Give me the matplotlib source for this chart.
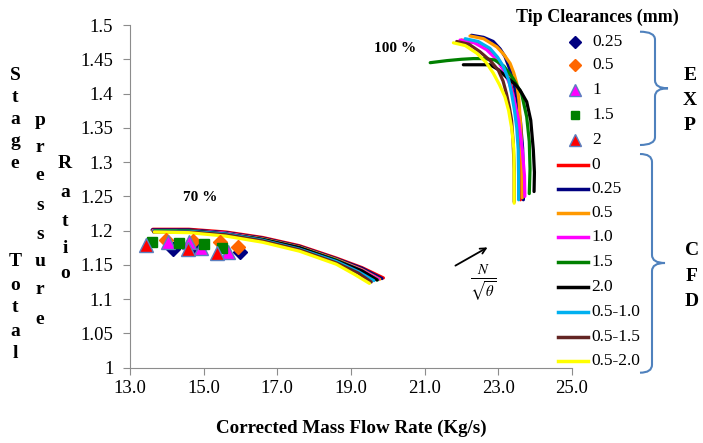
import matplotlib
matplotlib.use("Agg")
import matplotlib.pyplot as plt
from matplotlib.path import Path
from matplotlib.patches import PathPatch

plt.rcParams['font.family'] = ['Liberation Serif', 'DejaVu Serif']
plt.rcParams['mathtext.fontset'] = 'stix'

# ---- CFD curves, 70 % speed line ----
x70_0 = [13.62, 14.6, 15.6, 16.6, 17.6, 18.6, 19.3, 19.88]
y70_0 = [1.202, 1.202, 1.198, 1.190, 1.178, 1.160, 1.146, 1.131]
x70_025 = [13.60, 14.6, 15.6, 16.6, 17.6, 18.6, 19.3, 19.84]
y70_025 = [1.201, 1.201, 1.197, 1.189, 1.177, 1.159, 1.145, 1.130]
x70_05 = [13.62, 14.6, 15.6, 16.6, 17.6, 18.6, 19.3, 19.78]
y70_05 = [1.200, 1.200, 1.196, 1.188, 1.176, 1.158, 1.143, 1.129]
x70_10 = [13.64, 14.6, 15.6, 16.6, 17.6, 18.6, 19.3, 19.75]
y70_10 = [1.200, 1.200, 1.196, 1.187, 1.175, 1.157, 1.142, 1.129]
x70_15 = [13.66, 14.6, 15.6, 16.6, 17.6, 18.6, 19.3, 19.72]
y70_15 = [1.200, 1.200, 1.195, 1.187, 1.175, 1.157, 1.141, 1.128]
x70_20 = [14.30, 14.8, 15.6, 16.6, 17.6, 18.6, 19.3, 19.70]
y70_20 = [1.199, 1.199, 1.195, 1.187, 1.175, 1.156, 1.141, 1.128]
x70_0510 = [13.64, 14.6, 15.6, 16.6, 17.6, 18.6, 19.2, 19.62]
y70_0510 = [1.199, 1.199, 1.195, 1.186, 1.173, 1.155, 1.140, 1.127]
x70_0515 = [13.64, 14.6, 15.6, 16.6, 17.6, 18.6, 19.2, 19.55]
y70_0515 = [1.198, 1.198, 1.194, 1.185, 1.172, 1.153, 1.138, 1.125]
x70_0520 = [13.66, 14.6, 15.6, 16.6, 17.6, 18.6, 19.1, 19.50]
y70_0520 = [1.198, 1.197, 1.192, 1.183, 1.170, 1.151, 1.136, 1.123]

# ---- CFD curves, 100 % speed line ----
x100_0 = [22.00, 22.40, 22.70, 23.00, 23.15, 23.30, 23.40, 23.50, 23.56, 23.59, 23.60]
y100_0 = [1.478, 1.474, 1.466, 1.450, 1.437, 1.420, 1.400, 1.370, 1.330, 1.290, 1.245]
x100_025 = [22.27, 22.60, 22.86, 23.05, 23.18, 23.30, 23.40, 23.50, 23.60, 23.66, 23.68, 23.68]
y100_025 = [1.485, 1.482, 1.476, 1.465, 1.454, 1.437, 1.420, 1.395, 1.360, 1.320, 1.280, 1.245]
x100_05 = [22.23, 22.60, 22.96, 23.15, 23.32, 23.42, 23.50, 23.56, 23.61, 23.64, 23.65]
y100_05 = [1.484, 1.480, 1.468, 1.457, 1.444, 1.430, 1.415, 1.390, 1.350, 1.300, 1.248]
x100_10 = [21.96, 22.35, 22.68, 22.95, 23.14, 23.30, 23.41, 23.55, 23.65, 23.71, 23.72]
y100_10 = [1.478, 1.474, 1.464, 1.450, 1.434, 1.415, 1.395, 1.361, 1.318, 1.280, 1.250]
x100_15 = [21.15, 21.60, 22.00, 22.32, 22.60, 22.90, 23.15, 23.40, 23.63, 23.77, 23.84, 23.86, 23.84]
y100_15 = [1.445, 1.448, 1.450, 1.451, 1.451, 1.449, 1.440, 1.422, 1.400, 1.366, 1.330, 1.290, 1.254]
x100_20 = [22.05, 22.40, 22.77, 23.00, 23.22, 23.45, 23.59, 23.77, 23.88, 23.95, 23.98, 23.97]
y100_20 = [1.442, 1.442, 1.442, 1.435, 1.424, 1.414, 1.405, 1.388, 1.361, 1.318, 1.285, 1.257]
x100_0510 = [22.10, 22.45, 22.77, 22.98, 23.14, 23.28, 23.36, 23.44, 23.50, 23.54, 23.55, 23.55]
y100_0510 = [1.480, 1.476, 1.466, 1.453, 1.439, 1.420, 1.400, 1.375, 1.350, 1.318, 1.280, 1.245]
x100_0515 = [21.87, 22.20, 22.50, 22.78, 23.00, 23.13, 23.22, 23.30, 23.36, 23.40, 23.43, 23.43]
y100_0515 = [1.476, 1.472, 1.461, 1.448, 1.434, 1.418, 1.400, 1.380, 1.361, 1.330, 1.290, 1.242]
x100_0520 = [21.78, 22.10, 22.41, 22.66, 22.86, 23.03, 23.18, 23.28, 23.36, 23.42, 23.43, 23.43]
y100_0520 = [1.474, 1.470, 1.459, 1.446, 1.430, 1.413, 1.395, 1.375, 1.350, 1.320, 1.285, 1.240]

cfd_labels = ['0', '0.25', '0.5', '1.0', '1.5', '2.0', '0.5-1.0', '0.5-1.5', '0.5-2.0']
cfd_colors = ['#FF0000', '#000080', '#FF9900', '#FF00FF', '#008000', '#000000',
              '#00B0F0', '#632523', '#FFFF00']
curves70 = [(x70_0, y70_0), (x70_025, y70_025), (x70_05, y70_05), (x70_10, y70_10),
            (x70_15, y70_15), (x70_20, y70_20), (x70_0510, y70_0510),
            (x70_0515, y70_0515), (x70_0520, y70_0520)]
curves100 = [(x100_0, y100_0), (x100_025, y100_025), (x100_05, y100_05),
             (x100_10, y100_10), (x100_15, y100_15), (x100_20, y100_20),
             (x100_0510, y100_0510), (x100_0515, y100_0515), (x100_0520, y100_0520)]

# ---- experimental points (70 % speed) ----
exp025_x = [14.18, 14.75, 15.99]
exp025_y = [1.173, 1.176, 1.169]
exp05_x = [13.99, 14.70, 15.43, 15.92]
exp05_y = [1.187, 1.185, 1.184, 1.176]
exp1_x = [14.04, 14.60, 14.94, 15.67]
exp1_y = [1.184, 1.184, 1.174, 1.169]
exp15_x = [13.61, 14.34, 15.01, 15.49]
exp15_y = [1.184, 1.182, 1.180, 1.175]
exp2_x = [13.43, 14.57, 15.35]
exp2_y = [1.179, 1.173, 1.167]

exp_labels = ['0.25', '0.5', '1', '1.5', '2']
exp_markers = ['D', 'D', '^', 's', '^']
exp_colors = ['#000080', '#FF6600', '#FF00FF', '#008000', '#FF0000']
exp_edges = ['#000080', '#FF6600', '#5B7FBF', '#008000', '#5B7FBF']
exp_sizes = [7, 7, 10, 7, 10]
exp_pts = [(exp025_x, exp025_y), (exp05_x, exp05_y), (exp1_x, exp1_y),
           (exp15_x, exp15_y), (exp2_x, exp2_y)]

xticks = [13, 15, 17, 19, 21, 23, 25]
yticks = [1, 1.05, 1.1, 1.15, 1.2, 1.25, 1.3, 1.35, 1.4, 1.45, 1.5]
ytick_labels = ['1', '1.05', '1.1', '1.15', '1.2', '1.25', '1.3', '1.35', '1.4', '1.45', '1.5']

W, H = 703, 443
fig = plt.figure(figsize=(W / 100, H / 100), dpi=100)
ax = fig.add_axes([130 / W, 1 - 367.7 / H, (572 - 130) / W, (367.7 - 25) / H])

for (xs, ys), c in zip(curves70, cfd_colors):
    ax.plot(xs, ys, color=c, lw=2.3, solid_capstyle='round')
for (xs, ys), c in zip(curves100, cfd_colors):
    ax.plot(xs, ys, color=c, lw=2.3, solid_capstyle='round')
for (xs, ys), m, c, e, s in zip(exp_pts, exp_markers, exp_colors, exp_edges, exp_sizes):
    ax.plot(xs, ys, ls='none', marker=m, ms=s, mfc=c, mec=e, mew=1.0, zorder=5)

ax.set_xlim(13, 25)
ax.set_ylim(1, 1.5)
ax.set_xticks(xticks)
ax.set_xticklabels(['%.1f' % v for v in xticks], fontsize=13.5)
ax.set_yticks(yticks)
ax.set_yticklabels(ytick_labels, fontsize=13.5)
for s in ['top', 'right']:
    ax.spines[s].set_visible(False)
for s in ['left', 'bottom']:
    ax.spines[s].set_color('#8c8c8c')
ax.tick_params(direction='out', length=5, color='#8c8c8c')
ax.tick_params(axis='y', pad=7)
ax.tick_params(axis='x', pad=4)
ax.set_xlabel('Corrected Mass Flow Rate (Kg/s)', fontsize=13.7, fontweight='bold', labelpad=16)

ax.text(14.9, 1.249, '70 %', fontsize=11, fontweight='bold', ha='center', va='center')
ax.text(20.2, 1.466, '100 %', fontsize=11, fontweight='bold', ha='center', va='center')

# overlay in pixel coordinates for legend, braces and stacked letters
lay = fig.add_axes([0, 0, 1, 1])
lay.set_xlim(0, W)
lay.set_ylim(H, 0)
lay.axis('off')
lay.patch.set_alpha(0)

lay.annotate('', xy=(490, 246), xytext=(453, 267),
             arrowprops=dict(arrowstyle='->', color='black', lw=1.3))
lay.text(483, 283, r'$\frac{N}{\sqrt{\theta}}$', fontsize=15, ha='center', va='center')

lay.text(597, 17, 'Tip Clearances (mm)', fontsize=13, fontweight='bold',
         ha='center', va='center')
exp_rows = [41.7, 65, 90, 115, 140]
for lab, m, c, e, s, yy in zip(exp_labels, exp_markers, exp_colors, exp_edges, exp_sizes, exp_rows):
    lay.plot([575], [yy], ls='none', marker=m, ms=s * 0.9, mfc=c, mec=e, mew=1.0)
    lay.text(592, yy, lab, fontsize=12.5, ha='left', va='center')
cfd_rows = [165, 188.5, 213, 237, 262, 287, 312, 337, 361]
for lab, c, yy in zip(cfd_labels, cfd_colors, cfd_rows):
    lay.plot([558, 588], [yy, yy], color=c, lw=2.5)
    lay.text(591, yy, lab, fontsize=12.5, ha='left', va='center')


def brace(x_end, x_spine, x_tip, y_top, y_mid, y_bot, r=8):
    verts = [(x_end, y_top), (x_spine, y_top), (x_spine, y_top + r),
             (x_spine, y_mid - r), (x_spine, y_mid), (x_tip, y_mid),
             (x_spine, y_mid), (x_spine, y_mid + r),
             (x_spine, y_bot - r), (x_spine, y_bot), (x_end, y_bot)]
    codes = [Path.MOVETO, Path.CURVE3, Path.CURVE3, Path.LINETO, Path.CURVE3, Path.CURVE3,
             Path.CURVE3, Path.CURVE3, Path.LINETO, Path.CURVE3, Path.CURVE3]
    lay.add_patch(PathPatch(Path(verts, codes), fill=False, ec='#4F81BD', lw=1.5))


brace(640, 655, 668, 31.7, 88.3, 145)
brace(640, 652, 665, 154, 263, 372.7)

for ch, yy in zip('EXP', [75, 100, 125]):
    lay.text(690, yy, ch, fontsize=14, fontweight='bold', ha='center', va='center')
for ch, yy in zip('CFD', [250, 276.7, 301.7]):
    lay.text(692, yy, ch, fontsize=14, fontweight='bold', ha='center', va='center')

# stacked y-axis title, three columns
col1 = [('S', 75), ('t', 97), ('a', 119), ('g', 141), ('e', 163),
        ('T', 262), ('o', 285), ('t', 308), ('a', 331), ('l', 354)]
col2 = [('p', 120), ('r', 148), ('e', 176), ('s', 205), ('s', 234),
        ('u', 262), ('r', 290), ('e', 320)]
col3 = [('R', 163), ('a', 192), ('t', 221), ('i', 248), ('o', 274)]
for xx, col in zip([15, 40, 65], [col1, col2, col3]):
    for ch, yy in col:
        lay.text(xx, yy, ch, fontsize=14, fontweight='bold', ha='center', va='center')

fig.savefig('out.png', dpi=100)
